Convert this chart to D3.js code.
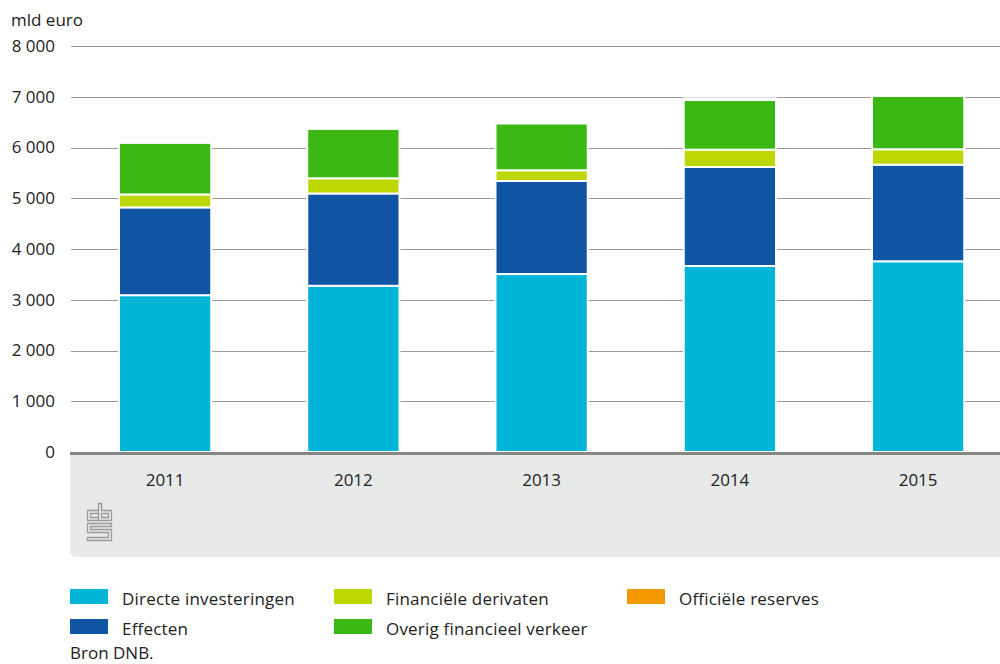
<!DOCTYPE html>
<html><head><meta charset="utf-8">
<script src="https://cdn.jsdelivr.net/npm/d3@7"></script>
<style>
html,body{margin:0;padding:0;background:#fff;}
svg{display:block;font-family:"Open Sans",sans-serif;}
</style></head>
<body>
<svg id="c" width="1000" height="664"></svg>
<script>
const years = ["2011","2012","2013","2014","2015"];
const directeInvesteringen = [3090, 3275, 3507, 3665, 3758];
const effecten = [1730, 1819, 1833, 1951, 1903];
const financieleDerivaten = [255, 299, 211, 341, 304];
const overigFinancieelVerkeer = [1020, 978, 926, 979, 1050];
const officieleReserves = [36, 39, 28, 32, 35];
const yTicks = [0,1000,2000,3000,4000,5000,6000,7000,8000];
const yUnit = "mld euro";
const source = "Bron DNB.";

const seriesDefs = [
  {key:"d", name:"Directe investeringen", values:directeInvesteringen, color:"#00b5d8"},
  {key:"e", name:"Effecten", values:effecten, color:"#1054a4"},
  {key:"f", name:"Financiële derivaten", values:financieleDerivaten, color:"#bdd700"},
  {key:"o", name:"Overig financieel verkeer", values:overigFinancieelVerkeer, color:"#3cb815"},
  {key:"r", name:"Officiële reserves", values:officieleReserves, color:"#f39800"}
];

const rows = years.map((y,i)=>{const r={year:y}; seriesDefs.forEach(s=>r[s.key]=s.values[i]); return r;});
const stack = d3.stack().keys(seriesDefs.map(s=>s.key))(rows);

const svg = d3.select("#c");
const x = d3.scaleBand().domain(years).range([71, 1012.25]).paddingInner(0.51).paddingOuter(0.255);
const y = d3.scaleLinear().domain([0,8000]).range([452,46]);
const fmt = v => d3.format(",")(v).replace(/,/g," ");

// bottom panel
svg.append("path")
  .attr("d","M70,455 H1000 V557 H76 Q70,557 70,551 Z")
  .attr("fill","#e8e9e9");

// gridlines
svg.append("g").selectAll("line").data(yTicks.filter(t=>t>0)).join("line")
  .attr("x1",71).attr("x2",1000)
  .attr("y1",d=>Math.round(y(d))+0.5).attr("y2",d=>Math.round(y(d))+0.5)
  .attr("stroke","#9a9a9a").attr("stroke-width",1.2);

// y tick labels
svg.append("g").selectAll("text").data(yTicks).join("text")
  .attr("x",55).attr("y",d=>y(d)).attr("dy","0.35em")
  .attr("text-anchor","end").attr("font-size",17).attr("fill","#222")
  .text(fmt);

svg.append("text").attr("x",11).attr("y",26).attr("font-size",17).attr("fill","#222").text(yUnit);

// bars
const g = svg.append("g");
stack.forEach((layer,li)=>{
  g.append("g").attr("fill",seriesDefs[li].color).selectAll("rect").data(layer).join("rect")
    .attr("x",d=>x(d.data.year)).attr("width",x.bandwidth())
    .attr("y",d=>y(d[1])).attr("height",d=>y(d[0])-y(d[1]))
    .attr("stroke","#fff").attr("stroke-width",2);
});

// axis line
svg.append("rect").attr("x",70).attr("y",452).attr("width",930).attr("height",3).attr("fill","#868686");

// year labels
svg.append("g").selectAll("text").data(years).join("text")
  .attr("x",d=>x(d)+x.bandwidth()/2).attr("y",486)
  .attr("text-anchor","middle").attr("font-size",17).attr("fill","#222")
  .text(d=>d);

// cbs logo
const logo = svg.append("g").attr("fill","none").attr("stroke","#9a9a9a").attr("stroke-width",1.3);
logo.append("path").attr("d","M98,510.5 H87.5 V520.5 H98 M98,513.5 H90.5 V517.5 H98");
logo.append("path").attr("d","M98.5,503.5 V520.5 H111.5 V510.5 H101.5 V503.5 Z M101.5,513.5 H108.5 V517.5 H101.5 Z");
logo.append("path").attr("d","M111.5,523.5 H87.5 V532.5 H108.5 V537.5 H87.5 V540.5 H111.5 V529.5 H90.5 V526.5 H111.5 Z");

// legend
const legendItems = [
  {s:seriesDefs[0], x:70, y:589},
  {s:seriesDefs[1], x:70, y:619},
  {s:seriesDefs[2], x:334, y:589},
  {s:seriesDefs[3], x:334, y:619},
  {s:seriesDefs[4], x:627, y:589}
];
const lg = svg.append("g").selectAll("g").data(legendItems).join("g")
  .attr("transform",d=>`translate(${d.x},${d.y})`);
lg.append("rect").attr("width",38).attr("height",15).attr("fill",d=>d.s.color);
lg.append("text").attr("x",52).attr("y",16).attr("font-size",17).attr("letter-spacing",0.2).attr("fill","#222").text(d=>d.s.name);

svg.append("text").attr("x",70).attr("y",659).attr("font-size",17).attr("fill","#222").text(source);
</script>
</body></html>
